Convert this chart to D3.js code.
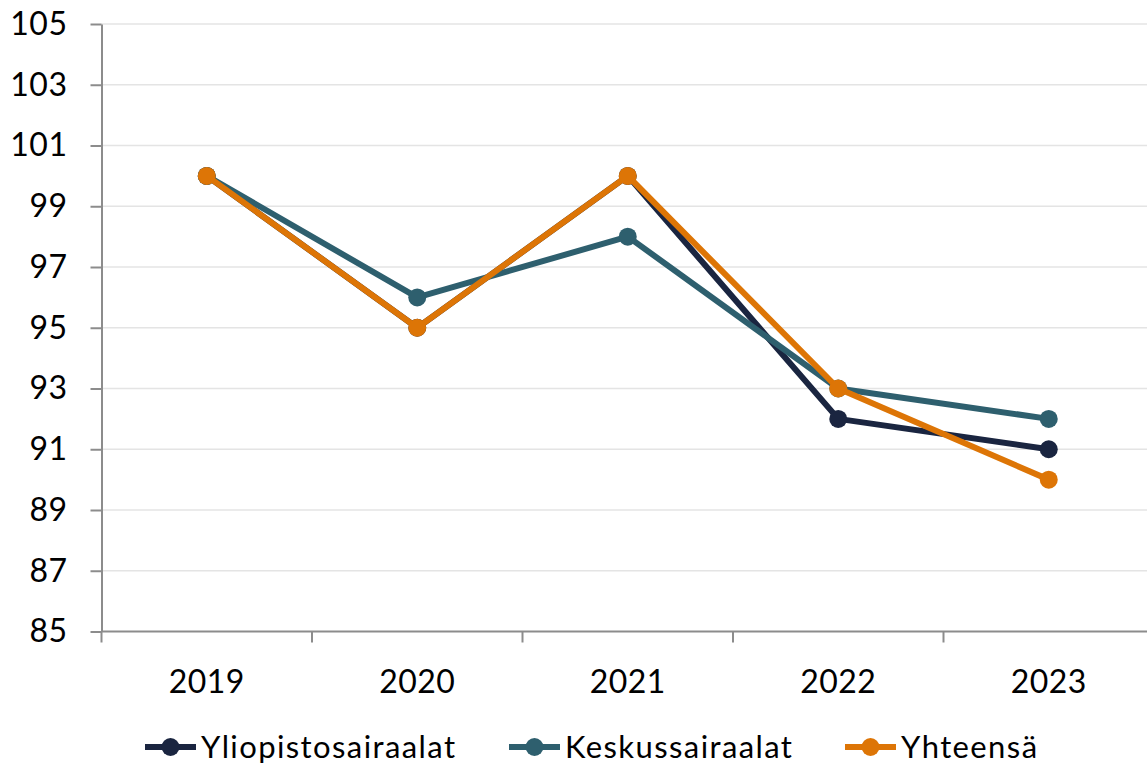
<!DOCTYPE html>
<html>
<head>
<meta charset="utf-8">
<script src="https://cdn.jsdelivr.net/npm/d3@7"></script>
<style>
  body { margin: 0; background: #fff; }
  text { font-family: Lato, "Open Sans", sans-serif; fill: #000; }
</style>
</head>
<body>
<svg id="chart"></svg>
<script>
const years = ["2019", "2020", "2021", "2022", "2023"];
const yliopisto = [100, 95, 100, 92, 91];
const keskus = [100, 96, 98, 93, 92];
const yhteensa = [100, 95, 100, 93, 90];
const yTicks = [85, 87, 89, 91, 93, 95, 97, 99, 101, 103, 105];

const series = [
    { name: "Yliopistosairaalat", values: yliopisto, color: "#1a2540" },
    { name: "Keskussairaalat", values: keskus, color: "#2e5f6e" },
    { name: "Yhteensä", values: yhteensa, color: "#dd7506" }
];

const width = 1147, height = 767;
const plotLeft = 101.5, plotRight = 1154, plotTop = 24, plotBottom = 631.5;

const svg = d3.select("#chart")
    .attr("width", width)
    .attr("height", height);

const x = d3.scaleBand().domain(years).range([plotLeft, plotRight]);
const y = d3.scaleLinear().domain([85, 105]).range([plotBottom, plotTop]);

// gridlines
svg.append("g")
    .selectAll("line")
    .data(yTicks.slice(1))
    .enter().append("line")
    .attr("x1", plotLeft).attr("x2", plotRight)
    .attr("y1", d => y(d)).attr("y2", d => y(d))
    .style("stroke", "#e4e4e4")
    .style("stroke-width", 1.5);

// y axis
const yAxis = svg.append("g")
    .attr("transform", `translate(${plotLeft},0)`)
    .call(d3.axisLeft(y).tickValues(yTicks).tickSize(11).tickSizeOuter(0).tickPadding(23));
yAxis.selectAll("line, path").style("stroke", "#8c8c8c").style("stroke-width", 2);
yAxis.selectAll("text")
    .style("font-size", "32px")
    .style("font-family", "Lato, sans-serif")
    .style("letter-spacing", "0.5px");

// x axis with ticks between categories
const xAxis = svg.append("g")
    .attr("transform", `translate(0,${plotBottom})`);
xAxis.append("line")
    .attr("x1", plotLeft).attr("x2", plotRight)
    .style("stroke", "#8c8c8c").style("stroke-width", 2);
xAxis.selectAll(".sep")
    .data(d3.range(years.length + 1))
    .enter().append("line")
    .attr("class", "sep")
    .attr("x1", d => plotLeft + x.step() * d)
    .attr("x2", d => plotLeft + x.step() * d)
    .attr("y1", 0).attr("y2", 11)
    .style("stroke", "#8c8c8c").style("stroke-width", 2);
xAxis.selectAll(".lbl")
    .data(years)
    .enter().append("text")
    .attr("class", "lbl")
    .attr("x", d => x(d) + x.bandwidth() / 2)
    .attr("y", 61)
    .attr("text-anchor", "middle")
    .style("font-size", "32px")
    .style("letter-spacing", "0.5px")
    .text(d => d);

// lines
const line = d3.line()
    .x((d, i) => x(years[i]) + x.bandwidth() / 2)
    .y(d => y(d));

series.forEach(s => {
    const g = svg.append("g");
    g.append("path")
        .datum(s.values)
        .attr("d", line)
        .style("fill", "none")
        .style("stroke", s.color)
        .style("stroke-width", 6)
        .style("stroke-linejoin", "round");
    g.selectAll("circle")
        .data(s.values)
        .enter().append("circle")
        .attr("cx", (d, i) => x(years[i]) + x.bandwidth() / 2)
        .attr("cy", d => y(d))
        .attr("r", 9)
        .style("fill", s.color);
});

// legend
const legendX = [145, 509, 845];
const legend = svg.append("g").attr("transform", "translate(0,747)");
series.forEach((s, i) => {
    const lg = legend.append("g").attr("transform", `translate(${legendX[i]},0)`);
    lg.append("line")
        .attr("x1", 0).attr("x2", 51)
        .style("stroke", s.color).style("stroke-width", 6);
    lg.append("circle").attr("cx", 25.5).attr("r", 9).style("fill", s.color);
    lg.append("text")
        .attr("x", 56).attr("y", 11)
        .style("font-size", "31px")
        .style("letter-spacing", "1.4px")
        .text(s.name);
});
</script>
</body>
</html>
